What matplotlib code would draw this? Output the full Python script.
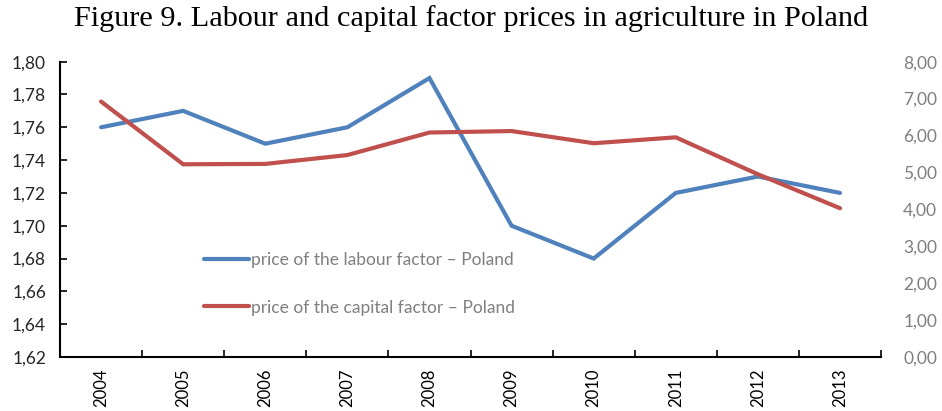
#!/usr/bin/env python3
"""Figure 9: labour and capital factor prices in agriculture in Poland."""

import matplotlib

matplotlib.use("Agg")
import matplotlib.pyplot as plt
from matplotlib.ticker import FixedLocator, FuncFormatter

years = ["2004", "2005", "2006", "2007", "2008", "2009", "2010", "2011", "2012", "2013"]
labour_price = [1.76, 1.77, 1.75, 1.76, 1.79, 1.70, 1.68, 1.72, 1.73, 1.72]
capital_price = [6.92, 5.22, 5.23, 5.47, 6.08, 6.12, 5.79, 5.95, 4.95, 4.03]

labour_label = "price of the labour factor \u2013 Poland"
capital_label = "price of the capital factor \u2013 Poland"
title = "Figure 9. Labour and capital factor prices in agriculture in Poland"

BLUE = "#4F81BD"
RED = "#C0504D"
SANS = ["Lato", "DejaVu Sans"]


def comma(fmt):
    return FuncFormatter(lambda v, _: format(v, fmt).replace(".", ","))


fig = plt.figure(figsize=(9.42, 4.11), dpi=100)
ax = fig.add_axes([0.0637, 0.1314, 0.8716, 0.7186])
ax2 = ax.twinx()

x = list(range(len(years)))
ax.plot(x, labour_price, color=BLUE, linewidth=3.0, solid_capstyle="round",
        solid_joinstyle="miter", zorder=3)
ax2.plot(x, capital_price, color=RED, linewidth=3.0, solid_capstyle="round",
         solid_joinstyle="miter", zorder=3)

ax.set_xlim(-0.5, len(years) - 0.5)
ax.set_ylim(1.62, 1.80)
ax.set_yticks([1.62 + 0.02 * i for i in range(10)])
ax.yaxis.set_major_formatter(comma(".2f"))
ax2.set_ylim(0, 8)
ax2.set_yticks(range(9))
ax2.yaxis.set_major_formatter(comma(".2f"))

# category labels centred, tick marks on the category boundaries
ax.xaxis.set_major_locator(FixedLocator(x))
ax.set_xticklabels(years, rotation=90, family=SANS, fontsize=12, color="#000000")
ax.tick_params(axis="x", which="major", length=0, pad=8)
ax.xaxis.set_minor_locator(FixedLocator([i - 0.5 for i in range(len(years) + 1)]))
ax.tick_params(axis="x", which="minor", direction="in", length=5, width=1.2, color="#000000")

ax.tick_params(axis="y", direction="in", length=5, width=1.2, color="#000000",
               labelsize=12.5, labelcolor="#262626", pad=10)
ax2.tick_params(axis="y", length=0, labelsize=12.5, labelcolor="#7f7f7f", pad=16)
for lbl in ax.get_yticklabels() + ax2.get_yticklabels():
    lbl.set_family(SANS)

for side in ("top", "right"):
    ax.spines[side].set_visible(False)
for side in ("top", "right", "left", "bottom"):
    ax2.spines[side].set_visible(False)
ax.spines["left"].set_linewidth(1.5)
ax.spines["bottom"].set_linewidth(1.5)

handles = [
    plt.Line2D([], [], color=BLUE, linewidth=3.0, solid_capstyle="round"),
    plt.Line2D([], [], color=RED, linewidth=3.0, solid_capstyle="round"),
]
leg = fig.legend(handles, [labour_label, capital_label], loc="upper left",
                 bbox_to_anchor=(0.2, 0.425), frameon=False, handlelength=2.6,
                 handletextpad=0.1, labelspacing=1.82, prop={"family": SANS, "size": 12.5})
for txt in leg.get_texts():
    txt.set_color("#7f7f7f")

fig.text(0.5, 0.955, title, ha="center", va="center", family="Liberation Serif", fontsize=21.8)

fig.savefig("out.png", dpi=100)
plt.close(fig)
